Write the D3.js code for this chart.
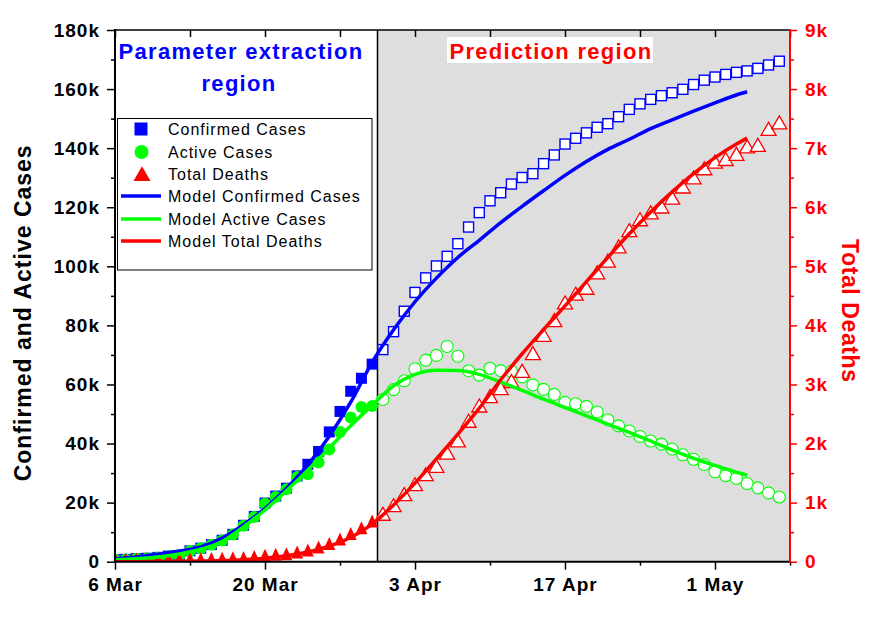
<!DOCTYPE html>
<html><head><meta charset="utf-8">
<script src="https://cdn.jsdelivr.net/npm/d3@7"></script>
<style>
body{margin:0;background:#fff}
svg{display:block}
text{font-family:Arial,"Liberation Sans",sans-serif}
</style>
</head><body>
<svg id="chart" width="877" height="621"></svg>
<script>
// ---------------- data ----------------
const startDate = "2020-03-06";          // day index 0
const lastFitDay = 24;                    // 30 Mar: end of parameter extraction
const confirmed = [670,799,1040,1176,1457,1908,2078,3675,4585,5795,7272,9257,12327,15320,19848,22213,24873,29056,32986,37323,43938,50871,57695,62095,66885,
  71808,77872,84794,91159,96092,100123,103374,107663,113296,118181,122171,124908,127854,130072,131359,134753,137698,141397,143342,145184,147065,148291,150648,153129,154999,156513,157770,158758,159912,161539,163009,164077,164967,165664,166152,167007,168162,169430];
const active = [653,781,1022,1156,1437,1880,2050,3622,4530,5738,7188,9166,12194,15163,19601,21896,24513,28667,29586,33570,37998,43871,48781,52351,52740,
  54933,58252,61247,65309,68248,69839,72864,69566,64647,63167,65491,64700,64532,62578,59865,58349,56646,53931,53483,52598,50703,48058,45969,44254,42400,40836,39794,38132,36198,34672,32886,30441,29155,28198,26459,25000,23300,21900];
const deaths = [0,0,0,2,2,3,3,7,9,11,17,24,28,44,67,84,94,123,157,206,267,342,433,533,645,
  775,920,1107,1275,1444,1584,1810,2016,2349,2607,2767,2900,3022,3194,3495,3804,4052,4352,4500,4600,4862,5060,5300,5575,5760,5877,5976,6126,6314,6467,6623,6736,6780,6866,6993,7020,7290,7400];

const modelDays      = [0,2,4,6,8,10,12,14,16,18,20,22,24,26,28,30,32,34,36,38,40,42,44,46,48,50,52,54,56,58,59];
const modelConfirmed = [1000,1600,2500,3600,5000,8000,12500,18000,24800,32800,42500,54000,67500,78500,88000,96000,103000,108800,114800,120300,125600,130800,135500,139600,143000,146600,149600,152500,155300,158000,159100];
const modelActive    = [700,1000,1600,2600,4200,6800,11800,17500,24000,31000,38500,46000,53000,59500,63400,64800,64700,63400,60800,58000,55000,52200,49400,46600,43800,40800,37800,35000,32600,30300,29300];
const modelDeaths    = [0,1,3,6,12,20,35,60,100,165,265,410,635,960,1330,1740,2160,2600,3080,3520,3930,4330,4740,5150,5550,5920,6260,6570,6840,7070,7170];

const xMajorTicks = ["2020-03-06","2020-03-20","2020-04-03","2020-04-17","2020-05-01"];
const xMinorTicks = ["2020-03-13","2020-03-27","2020-04-10","2020-04-24","2020-05-08"];
const xDomain     = ["2020-03-06","2020-05-08"];
const leftTicks   = [0,20000,40000,60000,80000,100000,120000,140000,160000,180000];
const rightTicks  = [0,1000,2000,3000,4000,5000,6000,7000,8000,9000];
const legendLabels = ["Confirmed Cases","Active Cases","Total Deaths","Model Confirmed Cases","Model Active Cases","Model Total Deaths"];
const leftTitle  = "Confirmed and Active Cases";
const rightTitle = "Total Deaths";
const fitTitle   = ["Parameter extraction","region"];
const predTitle  = "Prediction region";

// ---------------- layout ----------------
const BLUE="#0000ff", GREEN="#00ff00", RED="#ff0000";
const L=115, R=790, T=30, B=561.7;
const svg = d3.select("#chart");
const parse = d3.utcParse("%Y-%m-%d");
const dayToDate = i => d3.utcDay.offset(parse(startDate), i);

const x  = d3.scaleUtc().domain(xDomain.map(parse)).range([L,R]);
const yL = d3.scaleLinear().domain([0,180000]).range([B,T]);
const yR = d3.scaleLinear().domain([0,9000]).range([B,T]);

svg.append("defs").append("clipPath").attr("id","plotclip")
  .append("rect").attr("x",L).attr("y",T).attr("width",R-L).attr("height",B-T);

// shaded prediction region
const divX = x(d3.utcHour.offset(dayToDate(lastFitDay),12));
svg.append("rect").attr("x",divX).attr("y",T).attr("width",R-divX).attr("height",B-T).attr("fill","#dedede");
svg.append("line").attr("x1",divX).attr("x2",divX).attr("y1",T).attr("y2",B).attr("stroke","#000").attr("stroke-width",1.5);

// markers
const plot = svg.append("g").attr("clip-path","url(#plotclip)");
const tri = s => { const h=s*Math.sqrt(3)/2; return `M0,${-2*h/3}L${s/2},${h/3}L${-s/2},${h/3}Z`; };
const triFilled = "M0,-9L6,4L-6,4Z";
const idx = d3.range(confirmed.length);
const filled = i => i <= lastFitDay;

plot.append("g").selectAll("rect").data(idx).join("rect")
  .attr("x", i => x(dayToDate(i)) - (filled(i)?5.5:5))
  .attr("y", i => yL(confirmed[i]) - (filled(i)?5.5:5))
  .attr("width", i => filled(i)?11:10).attr("height", i => filled(i)?11:10)
  .attr("fill", i => filled(i)?BLUE:"#fff").attr("stroke",BLUE).attr("stroke-width", i=>filled(i)?0:1.4);

plot.append("g").selectAll("circle").data(idx).join("circle")
  .attr("cx", i => x(dayToDate(i))).attr("cy", i => yL(active[i]))
  .attr("r", 6)
  .attr("fill", i => filled(i)?GREEN:"#fff").attr("stroke",GREEN).attr("stroke-width", i=>filled(i)?0:1.1);

plot.append("g").selectAll("path").data(idx).join("path")
  .attr("transform", i => `translate(${x(dayToDate(i))},${yR(deaths[i])})`)
  .attr("d", i => filled(i)?triFilled:tri(15))
  .attr("fill", i => filled(i)?RED:"#fff").attr("stroke",RED).attr("stroke-width", i=>filled(i)?0:1.3);

// model lines
const mk = (vals, ys) => d3.line().curve(d3.curveMonotoneX)
  .x((d,k)=>x(dayToDate(modelDays[k]))).y(d=>ys(d))(vals);
[[modelConfirmed,yL,BLUE],[modelActive,yL,GREEN],[modelDeaths,yR,RED]].forEach(([v,s,c])=>{
  plot.append("path").attr("d",mk(v,s)).attr("fill","none").attr("stroke",c).attr("stroke-width",3.5);
});

// ---------------- axes ----------------
const tickFont = g => g.selectAll("text").attr("font-size",19).attr("font-weight","bold").attr("letter-spacing",1);
const kfmt = d => d===0 ? "0" : (d/1000)+"k";

// left
const gl = svg.append("g").attr("transform",`translate(${L},0)`)
  .call(d3.axisLeft(yL).tickValues(leftTicks).tickFormat(kfmt).tickSize(8).tickPadding(7));
gl.select(".domain").remove(); gl.selectAll("line").attr("stroke","#000").attr("stroke-width",1.5);
gl.call(tickFont); gl.selectAll("text").attr("fill","#000");
svg.append("g").attr("transform",`translate(${L},0)`)
  .call(d3.axisLeft(yL).tickValues(leftTicks.slice(0,-1).map(v=>v+10000)).tickFormat("").tickSize(4))
  .call(g=>{g.select(".domain").remove(); g.selectAll("line").attr("stroke","#000").attr("stroke-width",1.5);});

// right
const gr = svg.append("g").attr("transform",`translate(${R},0)`)
  .call(d3.axisRight(yR).tickValues(rightTicks).tickFormat(kfmt).tickSize(7).tickPadding(8));
gr.select(".domain").remove(); gr.selectAll("line").attr("stroke",RED).attr("stroke-width",1.5);
gr.call(tickFont); gr.selectAll("text").attr("fill",RED);
svg.append("g").attr("transform",`translate(${R},0)`)
  .call(d3.axisRight(yR).tickValues(rightTicks.slice(0,-1).map(v=>v+500)).tickFormat("").tickSize(4))
  .call(g=>{g.select(".domain").remove(); g.selectAll("line").attr("stroke",RED).attr("stroke-width",1.5);});

// bottom
const gb = svg.append("g").attr("transform",`translate(0,${B})`)
  .call(d3.axisBottom(x).tickValues(xMajorTicks.map(parse)).tickFormat(d3.utcFormat("%-d %b")).tickSize(8).tickPadding(8));
gb.select(".domain").remove(); gb.selectAll("line").attr("stroke","#000").attr("stroke-width",1.5);
gb.call(tickFont); gb.selectAll("text").attr("fill","#000");
svg.append("g").attr("transform",`translate(0,${B})`)
  .call(d3.axisBottom(x).tickValues(xMinorTicks.map(parse)).tickFormat("").tickSize(4))
  .call(g=>{g.select(".domain").remove(); g.selectAll("line").attr("stroke","#000").attr("stroke-width",1.5);});
// top (inward)
svg.append("g").attr("transform",`translate(0,${T})`)
  .call(d3.axisBottom(x).tickValues(xMajorTicks.concat(xMinorTicks).map(parse)).tickFormat("").tickSize(7))
  .call(g=>{g.select(".domain").remove(); g.selectAll("line").attr("stroke","#000").attr("stroke-width",1.5);});

// frame lines
svg.append("line").attr("x1",L).attr("x2",R).attr("y1",T).attr("y2",T).attr("stroke","#000").attr("stroke-width",1.5);
svg.append("line").attr("x1",L-1).attr("x2",R).attr("y1",B).attr("y2",B).attr("stroke","#000").attr("stroke-width",2);
svg.append("line").attr("x1",L).attr("x2",L).attr("y1",T-1).attr("y2",B+1).attr("stroke","#000").attr("stroke-width",2);
svg.append("line").attr("x1",R).attr("x2",R).attr("y1",T-1).attr("y2",B+1).attr("stroke",RED).attr("stroke-width",2);

// axis titles
svg.append("text").attr("transform",`translate(31,${(T+B)/2+17}) rotate(-90)`)
  .attr("text-anchor","middle").attr("font-size",23).attr("font-weight","bold").attr("letter-spacing",1)
  .attr("fill","#000").text(leftTitle);
svg.append("text").attr("transform",`translate(842,${(T+B)/2+15}) rotate(90)`)
  .attr("text-anchor","middle").attr("font-size",23).attr("font-weight","bold").attr("letter-spacing",0.6)
  .attr("fill",RED).text(rightTitle);

// region titles
svg.append("text").attr("x",241).attr("y",59).attr("text-anchor","middle").attr("font-size",22)
  .attr("font-weight","bold").attr("letter-spacing",1.3).attr("fill",BLUE).text(fitTitle[0]);
svg.append("text").attr("x",239).attr("y",91).attr("text-anchor","middle").attr("font-size",22)
  .attr("font-weight","bold").attr("letter-spacing",1.3).attr("fill",BLUE).text(fitTitle[1]);
svg.append("rect").attr("x",447).attr("y",37).attr("width",206).attr("height",26).attr("fill","#fff");
svg.append("text").attr("x",551).attr("y",59).attr("text-anchor","middle").attr("font-size",22)
  .attr("font-weight","bold").attr("letter-spacing",1.3).attr("fill",RED).text(predTitle);

// legend
const lg = svg.append("g");
lg.append("rect").attr("x",117.5).attr("y",118.5).attr("width",254.5).attr("height",151.5)
  .attr("fill","#fff").attr("stroke","#000").attr("stroke-width",1);
const rowY = [129,152,174,196,219,241];
lg.append("rect").attr("x",141-6.5).attr("y",rowY[0]-6.5).attr("width",13).attr("height",13).attr("fill",BLUE);
lg.append("circle").attr("cx",141.5).attr("cy",rowY[1]).attr("r",7).attr("fill",GREEN);
lg.append("path").attr("transform",`translate(142,${rowY[2]+2})`).attr("d",tri(17)).attr("fill",RED);
[BLUE,GREEN,RED].forEach((c,k)=>lg.append("line").attr("x1",121).attr("x2",161)
  .attr("y1",rowY[3+k]).attr("y2",rowY[3+k]).attr("stroke",c).attr("stroke-width",3.3));
lg.selectAll("text.lt").data(legendLabels).join("text").attr("class","lt")
  .attr("x",168).attr("y",(d,k)=>rowY[k]+6).attr("font-size",16).attr("letter-spacing",1)
  .attr("fill","#000").text(d=>d);
</script>
</body></html>
